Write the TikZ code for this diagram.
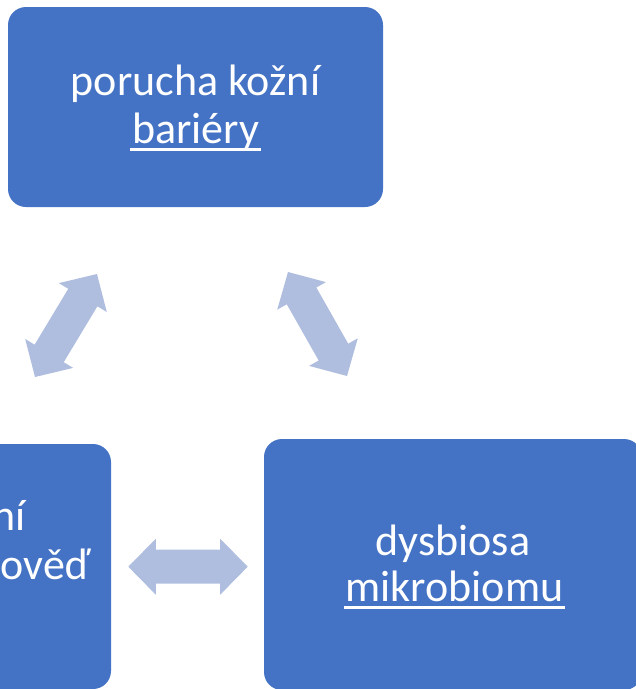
\documentclass[tikz,border=0pt]{standalone}
\usepackage{fontspec}
\setmainfont{Carlito}
\usetikzlibrary{calc}
\definecolor{boxblue}{HTML}{4472C4}
\definecolor{arrowfill}{RGB}{175,189,223}
\newlength\myulw
\newcommand\myul[1]{\setbox0\hbox{#1}\myulw=\wd0 \advance\myulw by 4pt\rlap{\hspace{-2pt}\rule[-7.6pt]{\myulw}{2.2pt}}\box0}
\newcommand\blockarrow[2]{%
  \coordinate (#1h) at ($(#1)!27.5pt!(#2)$);
  \coordinate (#2h) at ($(#2)!27.5pt!(#1)$);
  \fill[arrowfill] (#1) -- ($(#1h)!28pt!90:(#2)$) -- ($(#1h)!17pt!90:(#2)$)
    -- ($(#2h)!17pt!-90:(#1)$) -- ($(#2h)!28pt!-90:(#1)$) -- (#2)
    -- ($(#2h)!28pt!90:(#1)$) -- ($(#2h)!17pt!90:(#1)$)
    -- ($(#1h)!17pt!-90:(#2)$) -- ($(#1h)!28pt!-90:(#2)$) -- cycle;}
\tikzset{
  box/.style={fill=boxblue, rounded corners=18pt, inner sep=0pt, draw=none},
  txt/.style={text=white, font=\fontsize{44}{53}\selectfont, inner sep=0pt}
}
\begin{document}
\begin{tikzpicture}[x=1pt, y=-1pt]
\useasboundingbox (0,0) rectangle (636,689);
\clip (0,0) rectangle (636,689);
% boxes
\node[box, minimum width=375pt, minimum height=200pt] (top) at (195.5,107) {};
\node[box, minimum width=376pt, minimum height=245pt] (left) at (-77,566.5) {};
\node[box, minimum width=378pt, minimum height=251pt] (right) at (453,564.5) {};
% texts
\node[txt, anchor=base] (t1) at (195.5,95) {porucha kožní};
\node[txt, anchor=base] (t2) at (195.5,143) {\myul{bariéry}};
\node[txt, anchor=base east] (l1) at (26,530) {ní};
\node[txt, anchor=base east] (l2) at (90.5,579) {ověď};
\node[txt, anchor=base] (r1) at (453,555) {dysbiosa};
\node[txt, anchor=base] (r2) at (454.5,601) {\myul{mikrobiomu}};
% arrows
\coordinate (la) at (35,377);
\coordinate (lb) at (97,274);
\coordinate (ra) at (288,272);
\coordinate (rb) at (347,376);
\coordinate (ha) at (128.3,566.7);
\coordinate (hb) at (247.7,566.7);
\blockarrow{la}{lb}
\blockarrow{ra}{rb}
\blockarrow{ha}{hb}
\end{tikzpicture}
\end{document}
